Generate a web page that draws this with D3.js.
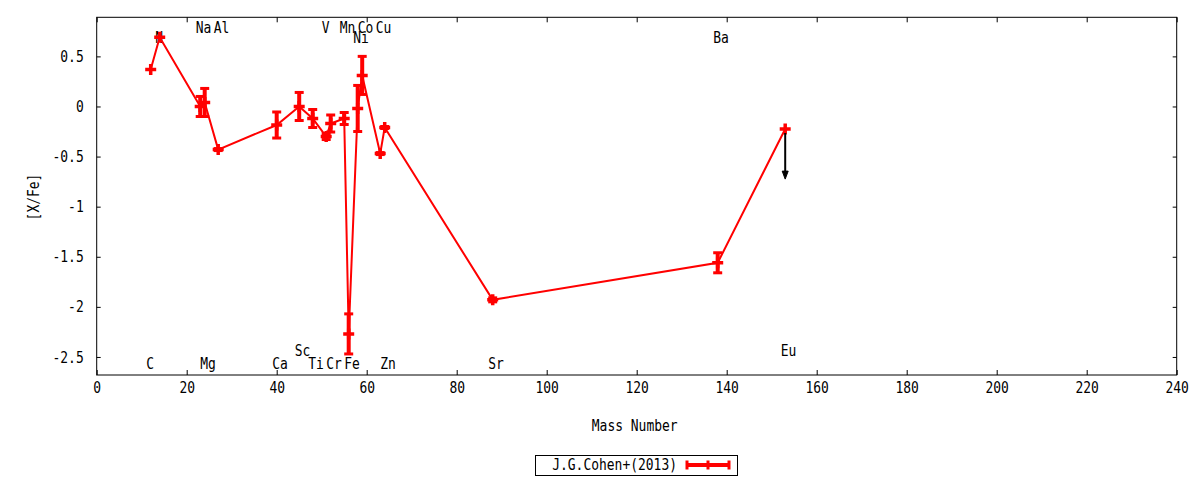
<!DOCTYPE html>
<html>
<head>
<meta charset="utf-8">
<script src="https://cdn.jsdelivr.net/npm/d3@7"></script>
<style>
  body { margin: 0; background: #fff; }
</style>
</head>
<body>
<svg id="chart" width="1200" height="480"></svg>
<script>
// abundance pattern, J.G.Cohen+(2013)
const elements = ['C', 'N', 'Na', 'Mg', 'Al', 'Ca', 'Sc', 'Ti', 'V', 'Cr', 'Mn', 'Fe', 'Ni', 'Co', 'Cu', 'Zn', 'Sr', 'Ba', 'Eu'];
const massNumbers = [12, 14, 23, 24, 27, 40, 45, 48, 51, 52, 55, 56, 58, 59, 63, 64, 88, 138, 153];
const xfeValues = [0.37, 0.69, 0.0, 0.04, -0.43, -0.185, 0.0, -0.12, -0.30, -0.17, -0.12, -2.27, -0.02, 0.31, -0.47, -0.21, -1.93, -1.56, -0.225];
const xfeErrors = [0.0, 0.0, 0.1, 0.14, 0.01, 0.13, 0.14, 0.09, 0.03, 0.085, 0.06, 0.2, 0.23, 0.19, 0.01, 0.01, 0.02, 0.1, 0.0];
const upperLimits = ['Eu'];
const labelRows = ['bot', 'top2', 'top', 'bot', 'top', 'bot', 'bot2', 'bot', 'top', 'bot', 'top', 'bot', 'top2', 'top', 'top', 'bot', 'bot', 'top2', 'bot2'];
const xTicks = [0, 20, 40, 60, 80, 100, 120, 140, 160, 180, 200, 220, 240];
const yTicks = [0.5, 0, -0.5, -1, -1.5, -2, -2.5];
const yTickLabels = ['0.5', '0', '-0.5', '-1', '-1.5', '-2', '-2.5'];
const seriesName = 'J.G.Cohen+(2013)';

const FONT = 'DejaVu Sans Mono';
const CHAR_W = 7.8;
const RED = '#ff0000';
const rowLevel = { top: 0.79, top2: 0.69, bot: -2.56, bot2: -2.43 };

const svg = d3.select('#chart');
const plotLeft = 96.7, plotRight = 1176.7, plotTop = 17.3, plotBottom = 375;

const x = d3.scaleLinear().domain([0, 240]).range([plotLeft, plotRight]);
const y = d3.scaleLinear().domain([-2.68, 0.89]).range([plotBottom, plotTop]);

// squeeze the mono font so it looks like the gnuplot one
const fitText = (sel) => {
  sel
    .attr('font-family', FONT)
    .attr('font-size', 16)
    .attr('fill', '#000')
    .attr('lengthAdjust', 'spacingAndGlyphs')
    .attr('textLength', function () { return this.textContent.length * CHAR_W; });
};

const data = elements.map((el, i) => ({
  el,
  mass: massNumbers[i],
  val: xfeValues[i],
  err: xfeErrors[i],
  row: labelRows[i],
}));

// 1. axes
const styleAxis = (g) => {
  g.select('.domain').remove();
  g.selectAll('line').attr('stroke', '#000');
};

svg.append('g')
  .attr('transform', `translate(0,${plotBottom})`)
  .call(d3.axisBottom(x).tickValues(xTicks).tickSize(-5).tickPadding(7).tickFormat(d3.format('d')))
  .call(styleAxis)
  .selectAll('text').call(fitText);

svg.append('g')
  .attr('transform', `translate(0,${plotTop})`)
  .call(d3.axisTop(x).tickValues(xTicks).tickSize(-5).tickFormat(''))
  .call(styleAxis);

svg.append('g')
  .attr('transform', `translate(${plotLeft},0)`)
  .call(d3.axisLeft(y).tickValues(yTicks).tickSize(-4).tickPadding(13).tickFormat((d, i) => yTickLabels[i]))
  .call(styleAxis)
  .selectAll('text').call(fitText);

svg.append('g')
  .attr('transform', `translate(${plotRight},0)`)
  .call(d3.axisRight(y).tickValues(yTicks).tickSize(-4).tickFormat(''))
  .call(styleAxis);

svg.append('rect')
  .attr('x', plotLeft)
  .attr('y', plotTop)
  .attr('width', plotRight - plotLeft)
  .attr('height', plotBottom - plotTop)
  .attr('fill', 'none')
  .attr('stroke', '#000')
  .attr('stroke-width', 1);

// 2. axis titles
svg.append('text')
  .attr('x', (plotLeft + plotRight) / 2 - 2)
  .attr('y', 431)
  .attr('text-anchor', 'middle')
  .text('Mass Number')
  .call(fitText);

svg.append('text')
  .attr('transform', 'translate(38.5,197) rotate(-90)')
  .attr('text-anchor', 'middle')
  .text('[X/Fe]')
  .call(fitText);

// 3. element labels
svg.append('g').attr('class', 'element-labels')
  .selectAll('text')
  .data(data)
  .enter()
  .append('text')
  .attr('x', (d) => x(d.mass - 1))
  .attr('y', (d) => y(rowLevel[d.row]) + 5.8)
  .text((d) => d.el)
  .call(fitText);

// 4. connecting line
svg.append('path')
  .datum(data)
  .attr('fill', 'none')
  .attr('stroke', RED)
  .attr('stroke-width', 2)
  .attr('d', d3.line().x((d) => x(d.mass)).y((d) => y(d.val)));

// 5. error bars (skip the ones with no error)
const bars = svg.append('g').attr('class', 'errorbars')
  .selectAll('g')
  .data(data.filter((d) => d.err > 0))
  .enter()
  .append('g');

bars.append('line')
  .attr('x1', (d) => x(d.mass))
  .attr('x2', (d) => x(d.mass))
  .attr('y1', (d) => y(d.val + d.err))
  .attr('y2', (d) => y(d.val - d.err))
  .attr('stroke', RED)
  .attr('stroke-width', 4);

[1, -1].forEach((s) => {
  bars.append('line')
    .attr('x1', (d) => x(d.mass) - 4.5)
    .attr('x2', (d) => x(d.mass) + 4.5)
    .attr('y1', (d) => y(d.val + s * d.err))
    .attr('y2', (d) => y(d.val + s * d.err))
    .attr('stroke', RED)
    .attr('stroke-width', 3);
});

// 6. point markers
svg.append('g').attr('class', 'points')
  .selectAll('path')
  .data(data)
  .enter()
  .append('path')
  .attr('transform', (d) => `translate(${x(d.mass)},${y(d.val)})`)
  .attr('d', 'M-5.5,0H5.5M0,-5.5V5.5')
  .attr('stroke', RED)
  .attr('stroke-width', 3.5);

// 7. upper limit arrows
const limits = data.filter((d) => upperLimits.includes(d.el));
const arrows = svg.append('g').attr('class', 'limits')
  .selectAll('g')
  .data(limits)
  .enter()
  .append('g');

arrows.append('line')
  .attr('x1', (d) => x(d.mass))
  .attr('x2', (d) => x(d.mass))
  .attr('y1', (d) => y(d.val) + 4)
  .attr('y2', (d) => y(d.val - 0.5) - 4)
  .attr('stroke', '#000')
  .attr('stroke-width', 2);

arrows.append('path')
  .attr('transform', (d) => `translate(${x(d.mass)},${y(d.val - 0.5)})`)
  .attr('d', 'M-3,-8L3,-8L0,0Z')
  .attr('fill', '#000')
  .attr('stroke', '#000')
  .attr('stroke-width', 1);

// 8. legend
const legend = svg.append('g').attr('class', 'legend');
legend.append('rect')
  .attr('x', 535.5)
  .attr('y', 455.5)
  .attr('width', 202)
  .attr('height', 20)
  .attr('fill', 'none')
  .attr('stroke', '#000');

legend.append('text')
  .attr('x', 677)
  .attr('y', 470)
  .attr('text-anchor', 'end')
  .text(seriesName)
  .call(fitText);

legend.append('line')
  .attr('x1', 687).attr('x2', 729)
  .attr('y1', 465).attr('y2', 465)
  .attr('stroke', RED)
  .attr('stroke-width', 4);

[687, 708, 729].forEach((lx) => {
  legend.append('line')
    .attr('x1', lx).attr('x2', lx)
    .attr('y1', 460.5).attr('y2', 469.5)
    .attr('stroke', RED)
    .attr('stroke-width', 3);
});
</script>
</body>
</html>
